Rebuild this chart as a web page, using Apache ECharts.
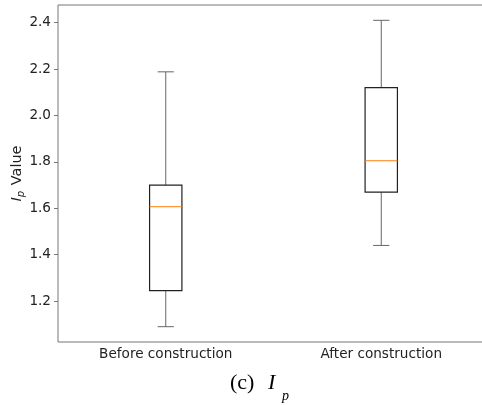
<!DOCTYPE html>
<html>
<head>
<meta charset="utf-8">
<script src="https://cdn.jsdelivr.net/npm/echarts@6/dist/echarts.min.js"></script>
<style>
  html, body { margin: 0; padding: 0; background: #fff; }
  #chart { width: 482px; height: 405px; }
</style>
</head>
<body>
<div id="chart"></div>
<script>
const categories = ['Before construction', 'After construction']
const whiskerLow = [1.09, 1.44]
const q1 = [1.245, 1.67]
const median = [1.607, 1.805]
const q3 = [1.70, 2.12]
const whiskerHigh = [2.188, 2.41]
const yTicks = [1.2, 1.4, 1.6, 1.8, 2.0, 2.2, 2.4]

// matplotlib style 5% margin around the data
const lo = Math.min(...whiskerLow)
const hi = Math.max(...whiskerHigh)
const pad = (hi - lo) * 0.05

const boxData = categories.map((c, i) => [i, whiskerLow[i], q1[i], median[i], q3[i], whiskerHigh[i]])

const chart = echarts.init(document.getElementById('chart'))

chart.setOption({
  animation: false,
  grid: {
    left: 58,
    top: 5,
    width: 431,
    bottom: 63,
    outerBoundsMode: 'none',
    containLabel: false,
    show: true,
    borderColor: '#777',
    borderWidth: 1,
  },
  xAxis: {
    type: 'category',
    data: categories,
    axisLine: { show: false },
    axisTick: { alignWithLabel: true, length: 4, lineStyle: { color: '#777' } },
    axisLabel: {
      margin: 5,
      color: '#222',
      fontFamily: 'DejaVu Sans',
      fontSize: 13.6,
    },
  },
  yAxis: {
    type: 'value',
    min: lo - pad,
    max: hi + pad,
    splitLine: { show: false },
    axisLine: { show: false },
    axisTick: { show: true, length: 4, customValues: yTicks, lineStyle: { color: '#777' } },
    axisLabel: {
      customValues: yTicks,
      margin: 7,
      color: '#222',
      fontFamily: 'DejaVu Sans',
      fontSize: 13.6,
      formatter: v => v.toFixed(1),
    },
    name: '{i|I}{s|p} Value',
    nameLocation: 'middle',
    nameRotate: 90,
    nameGap: 32,
    nameMoveOverlap: false,
    nameTextStyle: {
      color: '#222',
      fontFamily: 'DejaVu Sans',
      fontSize: 14.5,
      rich: {
        i: { fontFamily: 'DejaVu Sans', fontStyle: 'italic', fontSize: 14.5, color: '#222' },
        s: { fontFamily: 'DejaVu Sans', fontStyle: 'italic', fontSize: 10, color: '#222', padding: [7, 1, 0, 0] },
      },
    },
  },
  graphic: [
    {
      type: 'text',
      left: 230,
      top: 372,
      style: { text: '(c)', font: '22px "Liberation Serif"', fill: '#000' },
    },
    {
      type: 'text',
      left: 268,
      top: 372,
      style: { text: 'I', font: 'italic 22px "Liberation Serif"', fill: '#000' },
    },
    {
      type: 'text',
      left: 282,
      top: 389,
      style: { text: 'p', font: 'italic 14px "Liberation Serif"', fill: '#000' },
    },
  ],
  series: [
    {
      type: 'custom',
      data: boxData,
      encode: { x: 0, y: [1, 2, 3, 4, 5] },
      renderItem(params, api) {
        const x = api.value(0)
        const band = api.size([1, 0])[0]
        const half = band * 0.15 / 2
        const cap = half / 2
        const pt = d => api.coord([x, api.value(d)])
        const pLo = pt(1)
        const pQ1 = pt(2)
        const pMd = pt(3)
        const pQ3 = pt(4)
        const pHi = pt(5)
        const cx = pLo[0]
        const whisker = { stroke: '#666', lineWidth: 1 }
        return {
          type: 'group',
          children: [
            { type: 'line', shape: { x1: cx, y1: pLo[1], x2: cx, y2: pQ1[1] }, style: whisker },
            { type: 'line', shape: { x1: cx, y1: pQ3[1], x2: cx, y2: pHi[1] }, style: whisker },
            { type: 'line', shape: { x1: cx - cap, y1: pLo[1], x2: cx + cap, y2: pLo[1] }, style: whisker },
            { type: 'line', shape: { x1: cx - cap, y1: pHi[1], x2: cx + cap, y2: pHi[1] }, style: whisker },
            {
              type: 'rect',
              shape: { x: cx - half, y: pQ3[1], width: half * 2, height: pQ1[1] - pQ3[1] },
              style: { fill: 'none', stroke: '#222', lineWidth: 1.2 },
            },
            {
              type: 'line',
              shape: { x1: cx - half, y1: pMd[1], x2: cx + half, y2: pMd[1] },
              style: { stroke: '#ff7f0e', lineWidth: 1 },
            },
          ],
        }
      },
    },
  ],
})
</script>
</body>
</html>
